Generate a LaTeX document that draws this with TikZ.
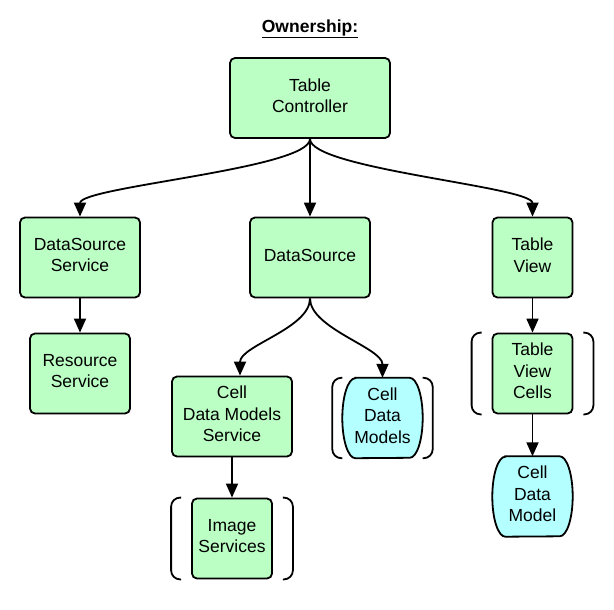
\documentclass[tikz,border=0pt]{standalone}
\usepackage{fontspec}
\setmainfont{Liberation Sans}
\usetikzlibrary{arrows.meta,backgrounds}
\definecolor{boxgreen}{RGB}{188,255,196}
\definecolor{datacyan}{RGB}{180,255,255}
\tikzset{
    txt/.style={font=\fontsize{17.5}{21.5}\selectfont, align=center, inner sep=0pt},
    box/.style={txt, text depth=5pt, draw, line width=1.8pt, fill=boxgreen, rounded corners=5pt, minimum height=80pt},
    datum/.style={txt, text depth=5pt, minimum width=80pt, minimum height=80pt},
    link/.style={line width=1.8pt, -{Triangle[length=14pt,width=12pt]}},
    brk/.style={line width=1.8pt, rounded corners=9pt},
}
\begin{document}
\begin{tikzpicture}[x=1pt, y=-1pt]
    \useasboundingbox (0,0) rectangle (614,610) ;
    \node [txt, font=\bfseries\fontsize{17.5}{21.5}\selectfont] (title) at (310,29) {\underline{Ownership:}} ;
    \node [box, minimum width=160pt] (tc) at (310,98) {Table\\Controller} ;
    \node [box, minimum width=120pt] (dss) at (80,257.5) {DataSource\\Service} ;
    \node [box, minimum width=120pt] (ds) at (310,257.5) {DataSource} ;
    \node [box, minimum width=80pt] (tv) at (532.5,257.5) {Table\\View} ;
    \node [box, minimum width=100pt] (rs) at (80,373.5) {Resource\\Service} ;
    \node [box, minimum width=120pt] (cdms) at (232,416.5) {Cell\\Data Models\\Service} ;
    \node [datum] (cdm) at (382.5,418) {Cell\\Data\\Models} ;
    \node [box, minimum width=80pt] (tvc) at (532.5,373.5) {Table\\View\\Cells} ;
    \node [datum] (cdmd) at (532.5,496.5) {Cell\\Data\\Model} ;
    \node [box, minimum width=80pt] (img) at (232,538.5) {Image\\Services} ;

    \begin{scope}[on background layer]
    \foreach \n in {cdm, cdmd}
        \draw [line width=1.8pt, fill=datacyan] ([xshift=13pt]\n.north west) -- ([xshift=-13pt]\n.north east)
            arc [start angle=90, end angle=-90, x radius=13pt, y radius=40pt] -- ([xshift=13pt]\n.south west)
            arc [start angle=-90, end angle=-270, x radius=13pt, y radius=40pt] -- cycle ;
    \end{scope}

    \foreach \n/\g in {cdm/10, tvc/20, img/20} {
        \draw [brk] ([xshift=10pt-\g pt]\n.north west) -- ([xshift=-\g pt]\n.north west) -- ([xshift=-\g pt]\n.south west) -- ([xshift=10pt-\g pt]\n.south west) ;
        \draw [brk] ([xshift=\g pt-10pt]\n.north east) -- ([xshift=\g pt]\n.north east) -- ([xshift=\g pt]\n.south east) -- ([xshift=\g pt-10pt]\n.south east) ;
    }

    \draw [link] (tc.south) .. controls +(0,30) and +(0,-30) .. (dss.north) ;
    \draw [link] (tc.south) -- (ds.north) ;
    \draw [link] (tc.south) .. controls +(0,30) and +(0,-30) .. (tv.north) ;
    \draw [link] (dss) -- (rs) ;
    \draw [link] (ds.south) .. controls +(0,30) and +(0,-30) .. ([xshift=8pt]cdms.north) ;
    \draw [link] (ds.south) .. controls +(0,30) and +(0,-30) .. (cdm.north) ;
    \draw [link] (cdms) -- (img) ;
    \draw [link] (tv) -- (tvc) ;
    \draw [link] (tvc) -- (cdmd) ;
\end{tikzpicture}
\end{document}
